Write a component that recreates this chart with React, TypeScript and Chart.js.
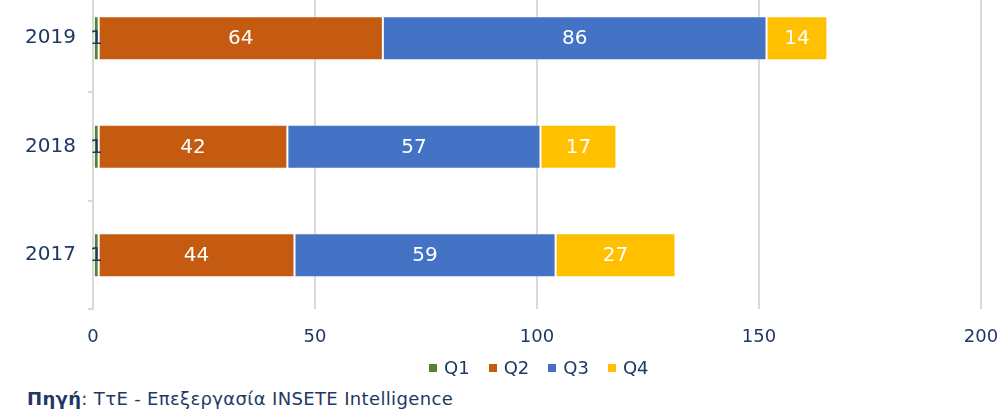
import React, { useEffect, useRef } from "react";
import { Chart, registerables } from "chart.js";

Chart.register(...registerables);

const categories = ["2019", "2018", "2017"];
const seriesNames = ["Q1", "Q2", "Q3", "Q4"];
const seriesColors = ["#548235", "#C55A11", "#4472C4", "#FFC000"];
const q1 = [1.3, 1.3, 1.3];
const q2 = [64.0, 42.5, 44.1];
const q3 = [86.4, 57.0, 58.8];
const q4 = [13.7, 17.1, 27.0];
const q1Labels = ["1", "1", "1"];
const q2Labels = ["64", "42", "44"];
const q3Labels = ["86", "57", "59"];
const q4Labels = ["14", "17", "27"];
const xTicks = [0, 50, 100, 150, 200];

const NAVY = "#1F3864";
const FONT = "'DejaVu Sans', Verdana, sans-serif";

const labelPlugin = {
  id: "segLabels",
  afterDatasetsDraw(chart: any) {
    const ctx = chart.ctx;
    const lists = [q1Labels, q2Labels, q3Labels, q4Labels];
    ctx.save();
    ctx.font = `20px ${FONT}`;
    ctx.textAlign = "center";
    ctx.textBaseline = "middle";
    chart.data.datasets.forEach((ds: any, di: number) => {
      const meta = chart.getDatasetMeta(di);
      meta.data.forEach((bar: any, i: number) => {
        const p = bar.getProps(["x", "y", "base"], true);
        const cx = (p.x + p.base) / 2;
        ctx.fillStyle = di === 0 ? NAVY : "#FFFFFF";
        ctx.fillText(lists[di][i], cx, p.y + 1);
      });
    });
    ctx.restore();
  },
};

export default function App() {
  const ref = useRef<HTMLCanvasElement | null>(null);
  useEffect(() => {
    if (!ref.current) return;
    const values = [q1, q2, q3, q4];
    const chart = new Chart(ref.current, {
      type: "bar",
      data: {
        labels: categories,
        datasets: seriesNames.map((name, k) => ({
          label: name,
          data: values[k],
          backgroundColor: seriesColors[k],
          borderColor: "rgba(255,255,255,0.5)",
          borderWidth: 1,
          borderSkipped: false,
          categoryPercentage: 1,
          barPercentage: 0.405,
        })),
      },
      options: {
        indexAxis: "y",
        animation: false,
        responsive: false,
        maintainAspectRatio: false,
        layout: { padding: { top: 15, left: 13, right: 59, bottom: 12 } },
        scales: {
          x: {
            stacked: true,
            min: 0,
            max: 200,
            afterBuildTicks: (axis: any) => {
              axis.ticks = xTicks.map((v) => ({ value: v }));
            },
            grid: { color: "#D9D9D9", lineWidth: 2, drawTicks: false },
            border: { display: false },
            ticks: {
              color: NAVY,
              font: { family: FONT, size: 18 },
              padding: 17,
              maxRotation: 0,
            },
          },
          y: {
            stacked: true,
            grid: {
              drawOnChartArea: false,
              drawTicks: true,
              tickLength: 5,
              color: "#D9D9D9",
              lineWidth: 2,
              offset: true,
            },
            border: { display: true, color: "#D9D9D9", width: 2 },
            ticks: {
              color: NAVY,
              font: { family: FONT, size: 20 },
              padding: 12,
            },
          },
        },
        plugins: {
          legend: { display: false },
          tooltip: { enabled: false },
        },
      },
      plugins: [labelPlugin],
    } as any);
    return () => chart.destroy();
  }, []);

  return (
    <div
      style={{
        position: "absolute",
        left: 0,
        top: 0,
        width: 1000,
        height: 409,
        overflow: "hidden",
        background: "#fff",
      }}
    >
      <canvas
        ref={ref}
        width={1040}
        height={417}
        style={{ position: "absolute", left: 0, top: -40, width: 1040, height: 417 }}
      />
      <div
        style={{
          position: "absolute",
          left: 429,
          top: 357,
          display: "flex",
          alignItems: "center",
          fontFamily: FONT,
          fontSize: 18,
          color: NAVY,
          whiteSpace: "nowrap",
          lineHeight: "22px",
        }}
      >
        {seriesNames.map((name, k) => (
          <div key={name} style={{ display: "flex", alignItems: "center", marginRight: 19 }}>
            <span
              style={{
                display: "inline-block",
                width: 8,
                height: 8,
                background: seriesColors[k],
                marginRight: 7,
              }}
            />
            <span>{name}</span>
          </div>
        ))}
      </div>
      <div
        style={{
          position: "absolute",
          left: 27,
          top: 388,
          fontFamily: FONT,
          fontSize: 18,
          letterSpacing: 0.35,
          color: NAVY,
          whiteSpace: "nowrap",
        }}
      >
        <b>Πηγή</b>: ΤτΕ - Επεξεργασία INSETE Intelligence
      </div>
    </div>
  );
}
